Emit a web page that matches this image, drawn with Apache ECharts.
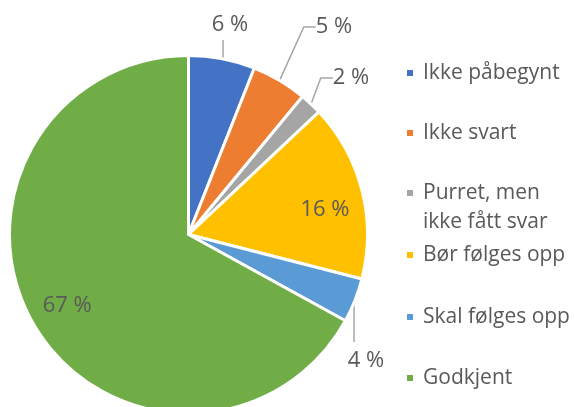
<!DOCTYPE html>
<html lang="no">
<head>
    <meta charset="UTF-8">
    <title>Status</title>
    <script src="https://cdn.jsdelivr.net/npm/echarts@6/dist/echarts.min.js"></script>
    <style>
        html, body { margin: 0; padding: 0; background: #fff; }
        #main { width: 574px; height: 407px; }
    </style>
</head>
<body>
<div id="main"></div>
<script type="text/javascript">
    // data
    var categories = ['Ikke påbegynt', 'Ikke svart', 'Purret, men ikke fått svar', 'Bør følges opp', 'Skal følges opp', 'Godkjent'];
    var values = [6, 5, 2, 16, 4, 67];
    var colors = ['#4472C4', '#ED7D31', '#A5A5A5', '#FFC000', '#5B9BD5', '#70AD47'];
    var insideLabels = ['Bør følges opp', 'Godkjent'];

    var txt = '#595959';
    var font = '"Open Sans", "Noto Sans", sans-serif';
    var cx = 188.5, cy = 234.5, R = 179;

    // where the outside labels sit (label centre), by data index
    var outsidePos = { 0: [230, 25], 1: [334, 27], 2: [351, 78], 4: [366, 361] };
    // straight vertical leader lines: x of the line and the label-side end
    var vertLines = { 0: [223, 40, -1], 4: [354, 342, 1] };

    var myChart = echarts.init(document.getElementById('main'));

    // y where a vertical line at x meets the rim of the pie
    function rimY(x, side) {
        var r = R - 1.5;
        return cy + side * Math.sqrt(r * r - (x - cx) * (x - cx));
    }

    var mainData = categories.map(function (name, i) {
        return {
            name: name,
            value: values[i],
            itemStyle: { color: colors[i] },
            label: { show: insideLabels.indexOf(name) < 0 }
        };
    });
    var innerData = categories.map(function (name, i) {
        return {
            name: name,
            value: values[i],
            label: { show: insideLabels.indexOf(name) >= 0 }
        };
    });

    // one legend per entry so the wrapped one keeps its marker on the first line
    var legendRows = [73, 133, 193, 255, 317, 378];
    var lineH = 29;
    var legends = categories.map(function (name, i) {
        var wrapped = name === 'Purret, men ikke fått svar';
        return {
            data: [name],
            orient: 'vertical',
            left: 405,
            top: legendRows[i] - (wrapped ? lineH * 1.5 : lineH / 2),
            padding: 0,
            itemWidth: 8,
            itemHeight: 8,
            icon: 'rect',
            selectedMode: false,
            formatter: wrapped ? '\nPurret, men\nikke fått svar' : '{name}',
            textStyle: {
                color: txt,
                fontFamily: font,
                fontSize: 21,
                lineHeight: lineH,
                padding: [0, 0, 0, 4]
            }
        };
    });

    var option = {
        animation: false,
        legend: legends,
        series: [{
            type: 'pie',
            center: [cx, cy],
            radius: R,
            startAngle: 90,
            clockwise: true,
            silent: true,
            itemStyle: { borderColor: '#fff', borderWidth: 3 },
            label: {
                position: 'outside',
                formatter: '{c} %',
                color: txt,
                fontFamily: font,
                fontSize: 22
            },
            labelLine: {
                show: true,
                length: 14,
                length2: 12,
                lineStyle: { color: '#A6A6A6', width: 1.5 }
            },
            labelLayout: function (params) {
                var p = outsidePos[params.dataIndex];
                if (!p) return {};
                var out = { x: p[0], y: p[1], align: 'center', verticalAlign: 'middle' };
                var v = vertLines[params.dataIndex];
                if (v) {
                    var y2 = rimY(v[0], v[2]);
                    out.labelLinePoints = [[v[0], v[1]], [v[0], (v[1] + y2) / 2], [v[0], y2]];
                }
                return out;
            },
            data: mainData
        }, {
            type: 'pie',
            center: [cx, cy],
            radius: [R * 0.54, R],
            startAngle: 90,
            clockwise: true,
            silent: true,
            itemStyle: { color: 'rgba(0,0,0,0)' },
            label: {
                position: 'inside',
                formatter: '{c} %',
                color: txt,
                fontFamily: font,
                fontSize: 22
            },
            labelLine: { show: false },
            labelLayout: function (params) {
                // Excel sets the 16 % label a little lower than the slice middle
                return params.dataIndex === 3 ? { dy: 10 } : {};
            },
            data: innerData
        }]
    };

    myChart.setOption(option);
</script>
</body>
</html>
